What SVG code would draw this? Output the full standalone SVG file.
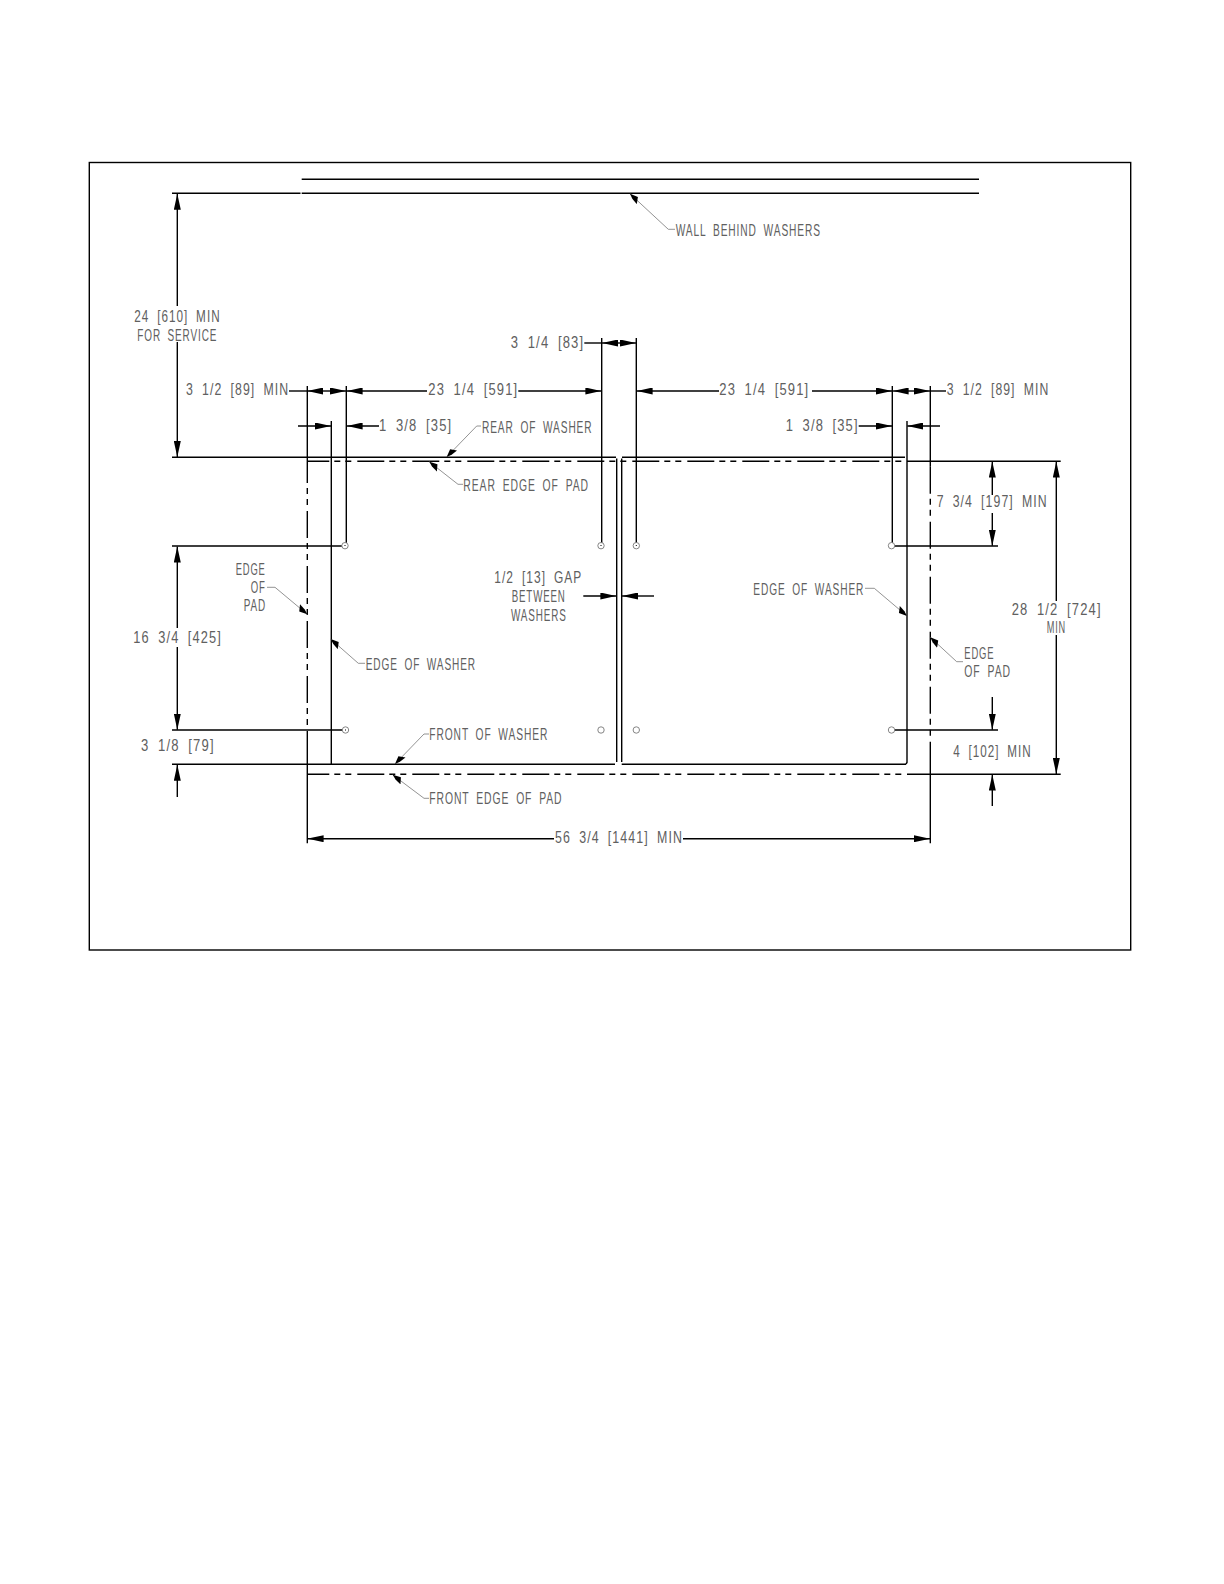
<svg xmlns="http://www.w3.org/2000/svg" width="1224" height="1584" viewBox="0 0 1224 1584">
<style>
.l{stroke:#000;stroke-width:1.4;fill:none}
.d{stroke-dasharray:27 5 6 5 6 6}
.h{stroke-dashoffset:5}
.a{stroke:#000;stroke-width:1.4;fill:none;marker-end:url(#arrow)}
.g{stroke:#777;stroke-width:.8;fill:none;marker-end:url(#lead)}
.c{stroke:#777;stroke-width:.9;fill:#fff}
.p{fill:#000}
text{font-family:"Liberation Sans",Arial,sans-serif;font-size:17px;fill:#606060;word-spacing:5px;letter-spacing:1.5px}
</style>
<defs>
<marker id="arrow" viewBox="0 0 16 7" refX="16" refY="3.5" markerWidth="16" markerHeight="7" markerUnits="userSpaceOnUse" orient="auto"><path d="M0 0L16 3.5L0 7Z"/></marker>
<marker id="lead" viewBox="0 0 12 7" refX="12" refY="3.5" markerWidth="12" markerHeight="7" markerUnits="userSpaceOnUse" orient="auto"><path d="M0 .5L7 1.5L12 3.5L4 6.5Z"/></marker>
</defs>
<rect id="frame" x="89.3" y="162.5" width="1041.4" height="787.5" class="l"/>
<g id="outlines">
<path class="l" d="M301.7 179.3H979M301.7 193.3H979M172 193.3H300.5M172 457.3H616M622 457.3H905M907 461.3H1060.7"/>
<path class="l" d="M172 764.3H615M621.7 764.3H906M907 774.3H1060.7M172 546H345M172 730H342M892 546H998M895 730H998"/>
<path class="l" d="M331.3 421V764M907 421V762.5L906 764M616.7 458.5V762M621.7 458.5V762"/>
<path class="l" d="M346.3 386V543M601.7 338V543M636.3 338V543M892.3 386V543"/>
<path class="l" d="M307.3 386V456M307.3 731V843.3M930.3 386V466.7M930.3 741.7V843.3"/>
<line class="l d" x1="307.3" y1="456" x2="307.3" y2="731"/>
<line class="l d" x1="930.3" y1="466.7" x2="930.3" y2="741.7"/>
<line class="l d h" x1="307.3" y1="461.3" x2="905" y2="461.3"/>
<line class="l d h" x1="307.3" y1="774.3" x2="905" y2="774.3"/>
</g>
<g id="holes">
<circle class="c" cx="345" cy="545.7" r="3.2"/><circle class="c" cx="601" cy="545.7" r="3.2"/><circle class="c" cx="636.3" cy="545.7" r="3.2"/><circle class="c" cx="891.5" cy="545.7" r="3.2"/>
<circle class="c" cx="345.5" cy="730" r="3.2"/><circle class="c" cx="601" cy="730" r="3.2"/><circle class="c" cx="636.3" cy="730" r="3.2"/><circle class="c" cx="891.5" cy="730" r="3.2"/>
<path class="p" d="M344.5 545h1v1h-1zM600.5 545h1v1h-1zM635.8 545h1v1h-1zM345 729.5h1v1h-1z"/>
</g>
<g id="connectors">
<path class="a" d="M177.3 306V193.8"/><path class="a" d="M177.3 342V457"/>
<path class="a" d="M177.3 628V546.5"/><path class="a" d="M177.3 647V729.7"/>
<path class="a" d="M177.3 797V764.8"/>
<path class="l" d="M289 391H307.3"/><path class="a" d="M326 391H307.3"/><path class="a" d="M326 391H346"/><path class="a" d="M427 391H346.6"/>
<path class="a" d="M518.3 391H601.4"/><path class="a" d="M719 391H636.6"/>
<path class="a" d="M812 391H892"/><path class="a" d="M911 391H892.6"/><path class="a" d="M911 391H930"/><path class="l" d="M930 391H946"/>
<path class="a" d="M298 426H331"/><path class="a" d="M379 426H346.6"/>
<path class="a" d="M858.7 426H892"/><path class="a" d="M940 426H907.3"/>
<path class="l" d="M584.3 343H601.7"/><path class="a" d="M619 343H602"/><path class="a" d="M619 343H636"/>
<path class="a" d="M583.3 596H616.4"/><path class="a" d="M654 596H622"/>
<path class="a" d="M992.3 495V461.6"/><path class="a" d="M992.3 513V545.7"/>
<path class="a" d="M1056.3 601V461.6"/><path class="a" d="M1056.3 635V774"/>
<path class="a" d="M992.3 697V729.7"/><path class="a" d="M992.3 806V774.6"/>
<path class="a" d="M554 838.7H307.6"/><path class="a" d="M683 838.7H930"/>
<polyline class="g" points="675,229.3 668.3,229.3 630,193.8"/>
<polyline class="g" points="481,426 476.7,426 446.7,457"/>
<polyline class="g" points="463,484.3 458,484.3 429.3,461.8"/>
<polyline class="g" points="267,587.3 275,587.3 307.3,614.3"/>
<polyline class="g" points="365,663.3 358.3,663.3 330.7,639"/>
<polyline class="g" points="429,734 424,734 395,764"/>
<polyline class="g" points="429,798.3 424,798.3 392.7,774.8"/>
<polyline class="g" points="865,588.3 874.3,588.3 907,616"/>
<polyline class="g" points="963,661.7 956.7,661.7 930.3,637.3"/>
</g>
<g id="labels">
<text x="134.3" y="321.7" textLength="86.4" lengthAdjust="spacingAndGlyphs">24 [610] MIN</text>
<text x="137.3" y="340.7" textLength="80" lengthAdjust="spacingAndGlyphs">FOR SERVICE</text>
<text x="186" y="395" textLength="103.3" lengthAdjust="spacingAndGlyphs">3 1/2 [89] MIN</text>
<text x="428.3" y="395" textLength="90" lengthAdjust="spacingAndGlyphs">23 1/4 [591]</text>
<text x="379" y="430.7" textLength="73.3" lengthAdjust="spacingAndGlyphs">1 3/8 [35]</text>
<text x="482" y="432.7" textLength="110.5" lengthAdjust="spacingAndGlyphs">REAR OF WASHER</text>
<text x="463.3" y="491.3" textLength="125.7" lengthAdjust="spacingAndGlyphs">REAR EDGE OF PAD</text>
<text x="510.7" y="347.7" textLength="73.6" lengthAdjust="spacingAndGlyphs">3 1/4 [83]</text>
<text x="719.3" y="395" textLength="90" lengthAdjust="spacingAndGlyphs">23 1/4 [591]</text>
<text x="946.7" y="395.3" textLength="102.6" lengthAdjust="spacingAndGlyphs">3 1/2 [89] MIN</text>
<text x="785.7" y="430.7" textLength="73" lengthAdjust="spacingAndGlyphs">1 3/8 [35]</text>
<text x="936.7" y="507.3" textLength="111" lengthAdjust="spacingAndGlyphs">7 3/4 [197] MIN</text>
<text x="753.3" y="595" textLength="111" lengthAdjust="spacingAndGlyphs">EDGE OF WASHER</text>
<text x="1011.7" y="614.7" textLength="90" lengthAdjust="spacingAndGlyphs">28 1/2 [724]</text>
<text x="1046.7" y="633.3" textLength="19.3" lengthAdjust="spacingAndGlyphs">MIN</text>
<text x="964.3" y="659" textLength="30" lengthAdjust="spacingAndGlyphs">EDGE</text>
<text x="964.3" y="677.3" textLength="46.7" lengthAdjust="spacingAndGlyphs">OF PAD</text>
<text x="494.3" y="583.3" textLength="88" lengthAdjust="spacingAndGlyphs">1/2 [13] GAP</text>
<text x="511.7" y="602.3" textLength="54" lengthAdjust="spacingAndGlyphs">BETWEEN</text>
<text x="511" y="620.7" textLength="55.7" lengthAdjust="spacingAndGlyphs">WASHERS</text>
<text x="235.7" y="575" textLength="30" lengthAdjust="spacingAndGlyphs">EDGE</text>
<text x="250.7" y="593.3" textLength="15" lengthAdjust="spacingAndGlyphs">OF</text>
<text x="243.7" y="611.3" textLength="22.3" lengthAdjust="spacingAndGlyphs">PAD</text>
<text x="133.3" y="642.7" textLength="88.7" lengthAdjust="spacingAndGlyphs">16 3/4 [425]</text>
<text x="365.7" y="670" textLength="110.3" lengthAdjust="spacingAndGlyphs">EDGE OF WASHER</text>
<text x="141" y="751.3" textLength="73.7" lengthAdjust="spacingAndGlyphs">3 1/8 [79]</text>
<text x="429.3" y="740" textLength="119" lengthAdjust="spacingAndGlyphs">FRONT OF WASHER</text>
<text x="429.3" y="804.3" textLength="133.2" lengthAdjust="spacingAndGlyphs">FRONT EDGE OF PAD</text>
<text x="555" y="843" textLength="128" lengthAdjust="spacingAndGlyphs">56 3/4 [1441] MIN</text>
<text x="953.3" y="756.7" textLength="78.4" lengthAdjust="spacingAndGlyphs">4 [102] MIN</text>
<text x="675.7" y="235.7" textLength="145.3" lengthAdjust="spacingAndGlyphs">WALL BEHIND WASHERS</text>
</g>
</svg>
